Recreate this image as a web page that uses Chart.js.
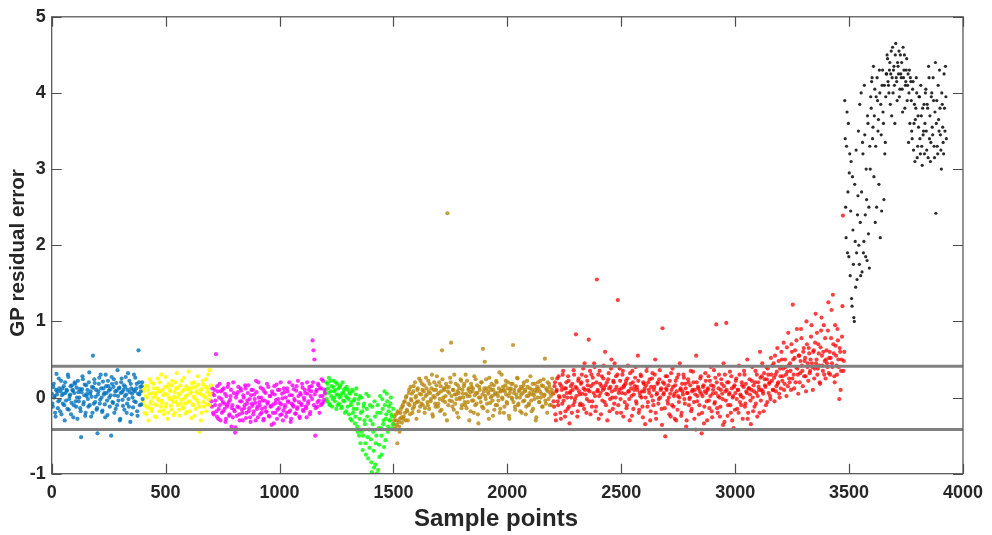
<!DOCTYPE html>
<html>
<head>
<meta charset="utf-8">
<script src="https://cdn.jsdelivr.net/npm/chart.js@4.4.1/dist/chart.umd.min.js"></script>
<style>
  html, body { margin: 0; padding: 0; background: #fff; }
  canvas { display: block; }
</style>
</head>
<body>
<canvas id="gpChart" width="992" height="535"></canvas>
<script>
// residual values; "A" lists sit on start+4i, "B" lists on start+2+4i
const sampleStep = 4;

const blueStart = 1;
const blueA = [
  0.05,-0.12,0.18,0.02,-0.25,0.31,0.08,-0.05,0.12,-0.18,
  0.22,0.03,-0.08,0.15,-0.3,0.06,0.1,-0.15,0.27,-0.02,
  0.04,-0.22,0.16,0.09,-0.1,0.2,-0.05,0.13,-0.28,0.07,
  0.0,-0.14,-0.52,0.11,0.24,-0.06,0.17,-0.2,0.02,0.1,
  -0.12,0.33,0.05,-0.25,0.14,0.55,-0.08,0.19,0.01,-0.16,
  -0.47,0.08,0.26,-0.03,0.12,-0.19,0.21,0.04,-0.09,0.3,
  0.06,-0.23,0.15,0.0,0.11,-0.5,0.18,-0.07,0.24,0.03,
  -0.15,0.09,0.36,-0.04,0.13,-0.28,0.2,0.07,-0.11,0.16,
  0.02,0.27,-0.2,0.1,-0.02,0.22,-0.32,0.12,0.05,-0.13,
  0.3,0.08,-0.06,0.18,-0.24,0.62,0.04,0.14,-0.09,0.2
];
const blueB = [
  -0.08,0.14,0.0,-0.2,0.1,0.04,-0.14,0.25,-0.03,0.08,
  -0.22,0.12,0.05,-0.1,0.2,-0.04,0.09,0.3,-0.16,0.02,
  0.15,-0.07,0.1,-0.26,0.06,0.18,-0.12,0.0,0.22,-0.05,
  0.11,-0.18,0.07,0.28,-0.09,0.03,-0.24,0.16,0.05,-0.02,
  0.2,-0.1,0.08,0.01,-0.2,0.13,0.24,-0.06,0.1,-0.14,
  0.04,0.18,-0.08,0.3,0.0,-0.17,0.12,0.06,-0.26,0.15,
  -0.04,0.22,0.09,-0.12,0.03,0.27,-0.06,0.14,-0.2,0.08,
  0.19,-0.1,0.02,0.12,-0.3,0.06,0.25,-0.03,0.1,-0.16,
  0.14,0.04,-0.08,0.32,-0.12,0.07,0.18,-0.22,0.0,0.1,
  -0.05,0.26,0.12,-0.18,0.05,0.2,-0.1,0.08,0.15,-0.02
];

const yellowStart = 401;
const yellowA = [
  -0.05,0.1,-0.2,0.02,-0.12,0.15,-0.3,0.05,-0.08,0.2,
  -0.15,0.0,0.12,-0.25,0.06,-0.1,0.25,-0.04,-0.18,0.08,
  0.3,-0.07,0.03,-0.22,0.14,-0.12,0.04,-0.28,0.18,-0.02,
  0.09,-0.16,0.22,-0.06,0.01,-0.2,0.12,0.32,-0.1,0.05,
  -0.24,0.16,-0.03,0.08,-0.14,0.26,-0.08,0.02,-0.19,0.11,
  0.34,-0.05,0.07,-0.27,0.13,-0.1,0.2,-0.01,-0.15,0.06,
  0.28,-0.07,-0.45,0.1,-0.2,0.03,0.17,-0.12,0.0,0.24,
  -0.09,0.12,-0.03,0.36,0.05
];
const yellowB = [
  0.08,-0.1,0.15,-0.22,0.0,0.1,-0.14,0.24,-0.05,-0.18,
  0.06,0.18,-0.09,0.02,-0.26,0.12,-0.02,0.08,0.2,-0.12,
  -0.04,0.1,-0.17,0.05,0.27,-0.08,0.14,-0.2,0.0,0.09,
  -0.11,0.16,-0.03,-0.23,0.07,0.2,-0.06,0.0,0.13,-0.16,
  0.04,-0.08,0.22,-0.13,0.1,-0.01,-0.21,0.15,0.03,-0.06,
  0.12,-0.18,0.06,0.19,-0.09,0.01,-0.24,0.14,0.08,-0.04,
  0.17,-0.12,0.05,-0.3,0.11,0.22,-0.06,0.02,0.14,-0.18,
  0.07,0.3,-0.1,0.03,0.16
];

const magentaStart = 701;
const magentaA = [
  -0.05,0.12,-0.2,0.03,-0.1,0.57,-0.25,0.08,-0.15,0.18,
  -0.3,-0.02,0.1,-0.18,-0.08,0.05,-0.28,-0.12,0.14,-0.06,
  -0.22,0.02,-0.38,-0.1,0.2,-0.16,-0.46,0.0,-0.24,0.07,
  -0.13,-0.3,0.12,-0.05,-0.2,0.03,-0.14,0.16,-0.27,-0.08,
  0.06,-0.18,-0.02,-0.32,0.1,-0.11,-0.22,0.04,-0.07,0.22,
  -0.15,-0.26,0.0,-0.1,0.13,-0.2,-0.04,-0.3,0.08,-0.13,
  -0.18,0.18,-0.06,-0.24,0.02,-0.12,-0.36,0.05,-0.09,0.15,
  -0.2,-0.03,-0.28,0.1,-0.14,-0.07,0.2,-0.22,-0.01,-0.17,
  0.07,-0.1,-0.25,0.12,-0.05,-0.19,0.03,-0.32,-0.08,0.16,
  -0.12,-0.02,-0.21,0.09,-0.15,0.22,-0.06,-0.27,0.04,-0.1,
  0.13,-0.18,-0.03,0.06,-0.14,0.2,-0.08,0.1,-0.22,0.02,
  0.15,0.75,0.62,0.5,-0.5,0.08,-0.12,0.18,-0.04,0.12,
  -0.1,0.24,0.02,-0.06,0.1
];
const magentaB = [
  -0.12,0.05,-0.22,0.1,-0.04,-0.18,0.15,-0.28,0.0,-0.1,
  0.08,-0.2,-0.06,0.12,-0.15,-0.32,0.02,-0.09,0.18,-0.24,
  -0.03,0.1,-0.14,-0.26,0.06,-0.18,-0.39,0.04,-0.12,0.14,
  -0.22,-0.05,0.09,-0.16,-0.3,0.0,-0.1,0.12,-0.2,-0.04,
  0.16,-0.14,-0.26,0.03,-0.08,0.1,-0.18,-0.02,-0.3,0.07,
  -0.12,0.2,-0.06,-0.22,0.0,-0.15,0.11,-0.28,-0.04,0.06,
  -0.19,-0.08,0.14,-0.25,0.02,-0.11,0.08,-0.2,-0.34,0.04,
  -0.07,0.17,-0.16,-0.02,0.1,-0.23,-0.09,0.05,-0.3,0.12,
  -0.13,0.0,-0.2,0.08,-0.06,0.2,-0.17,-0.28,0.03,-0.1,
  0.11,-0.04,-0.21,0.15,-0.13,0.02,-0.25,0.06,-0.08,0.18,
  -0.16,0.0,0.1,-0.12,-0.26,0.05,-0.05,0.14,-0.19,0.08,
  -0.02,0.2,-0.1,0.04,-0.14,0.1,-0.06,0.16,-0.2,0.02,
  0.12,-0.08,0.22,-0.03,0.06
];

const greenStart = 1201;
const greenA = [
  0.05,0.2,-0.05,0.12,0.26,-0.1,0.08,0.15,-0.02,0.22,
  0.0,0.1,-0.15,0.18,0.04,-0.08,0.14,0.02,-0.12,0.2,
  0.06,-0.05,0.12,-0.18,0.0,0.1,-0.22,0.05,-0.1,-0.3,
  0.08,-0.15,-0.02,-0.25,0.12,-0.38,-0.08,-0.5,0.02,-0.2,
  -0.45,-0.69,-0.12,-0.3,-0.6,0.05,-0.25,-0.8,-0.42,-0.1,
  -0.55,-0.98,-0.35,-0.7,-0.05,-0.88,-0.5,-0.2,-0.95,-0.62,
  0.02,-0.4,-0.75,-0.15,-0.3,0.08,-0.56,-0.22,-0.05,-0.38,
  -0.12,-0.3,0.0,-0.25,-0.35
];
const greenB = [
  0.1,-0.02,0.18,0.06,-0.08,0.22,0.02,-0.12,0.14,0.08,
  -0.05,0.2,0.04,-0.1,0.12,0.0,0.16,-0.14,0.06,-0.04,
  0.1,-0.2,0.02,0.14,-0.12,-0.02,0.06,-0.28,-0.06,0.1,
  -0.2,-0.04,-0.34,0.04,-0.15,-0.45,-0.02,-0.28,-0.6,0.0,
  -0.18,-0.5,-0.08,-0.35,-0.75,-0.15,-0.52,0.02,-0.66,-0.3,
  -0.85,-0.12,-0.45,-0.92,-0.25,-0.6,-1.0,-0.1,-0.4,-0.78,
  -0.2,-0.5,-0.02,-0.35,-0.65,-0.1,-0.28,0.05,-0.45,-0.18,
  -0.3,-0.08,-0.22,-0.4,-0.15
];

const goldStart = 1501;
const goldA = [
  -0.35,-0.25,-0.42,-0.3,-0.6,-0.2,-0.38,-0.28,-0.15,-0.33,
  -0.1,-0.25,-0.05,-0.3,0.02,-0.18,-0.08,0.1,-0.22,-0.02,
  0.05,-0.15,0.15,-0.08,0.0,-0.28,0.1,-0.05,0.25,-0.12,
  0.04,0.18,-0.1,0.08,-0.2,0.02,0.12,-0.06,0.22,-0.15,
  0.06,-0.02,0.3,-0.25,0.1,0.0,-0.12,0.16,0.04,-0.08,
  0.2,-0.18,0.08,0.62,-0.04,0.12,-0.22,0.02,0.14,2.42,
  -0.1,0.06,0.26,0.72,-0.05,0.1,-0.16,0.04,0.18,-0.02,
  0.08,-0.26,0.12,0.0,0.22,-0.1,0.05,0.15,-0.06,0.3,
  -0.14,0.02,0.1,-0.3,0.07,0.18,-0.04,0.12,-0.2,0.03,
  0.24,-0.08,0.06,-0.34,0.14,0.0,0.2,-0.12,0.64,0.08,
  0.47,-0.02,0.12,-0.18,0.05,0.26,-0.07,0.1,0.02,-0.24,
  0.16,0.04,-0.1,0.2,0.06,-0.04,0.33,-0.15,0.09,0.0,
  0.14,-0.2,0.08,0.22,-0.06,0.12,0.02,-0.28,0.1,0.18,
  -0.02,0.69,0.06,-0.12,0.15,0.0,0.25,-0.08,0.1,-0.18,
  0.04,0.12,-0.05,0.2,0.08,-0.22,0.02,0.14,-0.1,0.06,
  0.28,-0.04,0.1,-0.15,0.03,0.18,-0.3,0.08,0.0,0.12,
  -0.06,0.22,0.05,-0.12,0.15,0.02,0.51,-0.08,0.1,0.2,
  -0.02,0.14,0.06,-0.1,0.25
];
const goldB = [
  -0.3,-0.4,-0.22,-0.36,-0.18,-0.32,-0.45,-0.2,-0.26,-0.12,
  -0.28,-0.06,-0.2,0.0,-0.16,-0.3,0.06,-0.1,0.14,-0.04,
  -0.2,0.08,-0.12,0.2,0.02,-0.06,0.12,-0.18,0.05,0.22,
  -0.08,0.1,-0.02,0.16,-0.14,0.26,0.04,-0.1,0.08,0.18,
  -0.05,0.12,-0.22,0.02,0.2,-0.08,0.1,0.28,-0.12,0.06,
  -0.02,0.15,-0.16,0.24,0.0,0.1,-0.06,0.18,-0.3,0.08,
  0.14,-0.04,0.2,0.02,-0.12,0.1,0.3,-0.08,0.04,-0.2,
  0.16,0.06,-0.02,0.24,-0.14,0.1,0.0,0.18,-0.1,0.05,
  0.22,-0.06,0.12,0.02,-0.18,0.14,0.08,-0.04,0.28,-0.1,
  0.06,0.16,-0.22,0.0,0.1,-0.06,0.2,0.04,-0.14,0.12,
  0.02,0.24,-0.08,0.08,-0.28,0.14,0.0,0.18,-0.04,0.1,
  -0.16,0.06,0.22,-0.1,0.02,0.12,-0.2,0.08,0.3,-0.02,
  0.1,-0.12,0.16,0.04,-0.08,0.2,-0.24,0.06,0.12,0.0,
  0.18,-0.06,0.1,-0.16,0.04,0.26,-0.1,0.08,0.0,0.14,
  -0.2,0.06,0.16,-0.04,0.1,-0.12,0.22,0.02,-0.08,0.12,
  0.04,-0.18,0.18,0.06,-0.02,0.1,-0.26,0.14,0.2,-0.06,
  0.08,0.0,0.16,-0.12,0.24,0.04,-0.04,0.12,-0.2,0.08,
  0.18,-0.1,0.02,0.1,0.06
];

const redStart = 2201;
const redA = [
  0.05,-0.12,0.2,-0.3,0.1,-0.05,0.28,0.0,-0.2,0.15,
  -0.08,0.35,0.02,-0.25,0.12,0.06,-0.15,0.22,-0.34,0.08,
  0.0,0.18,-0.1,0.3,-0.02,0.83,0.12,-0.18,0.25,0.04,
  -0.08,0.2,0.05,0.38,-0.15,0.1,0.28,-0.02,0.16,0.76,
  0.08,-0.22,0.3,-0.05,0.18,0.45,0.02,-0.12,1.55,0.1,
  -0.28,0.35,0.06,0.15,-0.04,0.25,0.12,0.6,-0.1,0.2,
  0.04,0.32,-0.18,0.14,0.5,0.0,0.22,-0.08,0.1,0.28,
  -0.2,1.28,0.06,0.38,-0.02,0.12,0.3,-0.25,0.16,0.05,
  0.22,-0.1,0.42,0.08,-0.3,0.18,0.02,0.35,-0.15,0.1,
  0.26,-0.05,0.14,0.55,-0.2,0.06,0.3,0.0,-0.12,0.2,
  0.08,-0.35,0.16,0.4,-0.06,0.1,0.24,-0.18,0.02,0.32,
  -0.1,0.14,0.5,-0.28,0.06,0.2,-0.02,0.36,0.1,-0.15,
  0.91,0.04,0.18,-0.51,0.12,0.28,-0.08,0.0,0.22,-0.25,
  0.1,0.38,-0.12,0.05,0.16,-0.3,0.26,0.02,-0.06,0.45,
  0.12,-0.2,0.08,0.3,-0.02,0.18,-0.38,0.06,0.24,-0.1,
  0.0,0.35,-0.15,0.1,0.2,-0.28,0.04,0.55,-0.05,0.14,
  -0.22,0.08,0.28,-0.47,0.02,0.16,-0.12,0.32,0.06,-0.3,
  0.12,-0.04,0.22,0.4,-0.18,0.05,0.15,-0.08,0.26,0.96,
  -0.14,0.02,0.3,-0.25,0.1,0.18,-0.02,0.45,-0.32,0.08,
  0.98,0.2,-0.1,0.04,0.34,-0.2,0.12,0.0,-0.4,0.16,
  0.06,0.25,-0.15,0.1,0.42,-0.06,0.02,0.2,-0.28,0.14,
  0.3,-0.08,0.08,0.5,-0.2,0.12,0.04,-0.35,0.22,0.0,
  0.16,-0.12,0.35,0.06,-0.25,0.2,0.1,0.6,-0.04,0.28,
  0.08,-0.18,0.24,0.14,0.4,-0.06,0.3,0.18,0.02,0.52,
  0.22,0.1,0.45,-0.05,0.3,0.15,0.65,0.2,0.05,0.38,
  0.12,0.5,0.28,0.72,0.18,0.4,0.02,0.34,0.85,0.25,
  0.45,0.1,0.6,1.22,0.3,0.52,0.2,0.75,0.38,0.05,
  0.55,0.32,0.9,0.42,0.15,0.65,0.48,0.28,1.0,0.4,
  0.22,0.58,0.35,0.8,0.45,0.1,0.62,0.38,1.1,0.5,
  0.3,0.7,0.42,0.18,0.88,0.55,0.35,0.95,0.48,0.25,
  0.62,0.4,1.25,0.52,0.3,0.78,0.45,1.35,0.58,0.2,
  0.68,0.42,0.9,0.5,-0.02,0.6,0.35,0.8,2.39,0.48
];
const redB = [
  -0.05,0.15,-0.22,0.08,0.25,-0.1,0.02,0.18,-0.28,0.1,
  0.3,-0.04,0.12,-0.18,0.2,0.0,0.28,-0.12,0.06,0.15,
  -0.2,0.1,0.36,-0.06,0.14,0.02,-0.25,0.22,0.08,-0.1,
  0.18,0.3,-0.1,0.12,0.45,0.04,-0.2,0.22,0.1,-0.05,
  0.35,0.15,-0.12,0.26,0.06,0.4,-0.18,0.2,0.08,0.3,
  0.02,0.18,-0.22,0.28,0.1,0.42,-0.06,0.16,0.05,-0.3,
  0.24,0.12,-0.02,0.38,0.08,-0.15,0.2,0.45,0.0,0.14,
  0.3,-0.1,0.1,0.22,-0.2,0.06,0.35,0.14,-0.06,0.18,
  -0.14,0.25,0.08,-0.02,0.32,0.12,-0.24,0.2,0.04,0.15,
  0.4,-0.08,0.1,0.22,-0.16,0.02,0.28,0.08,-0.26,0.18,
  0.12,0.0,0.35,-0.12,0.2,0.06,-0.3,0.14,0.25,-0.04,
  0.1,0.3,-0.2,0.04,0.18,-0.08,0.24,0.0,0.12,-0.36,
  0.2,0.06,-0.14,0.28,0.1,-0.04,0.16,-0.22,0.05,0.32,
  -0.1,0.14,0.02,-0.28,0.22,0.08,-0.16,0.3,0.0,0.1,
  -0.24,0.18,0.04,0.26,-0.08,0.12,-0.3,0.06,0.2,-0.02,
  0.16,-0.18,0.08,0.34,-0.06,0.1,-0.42,0.2,0.02,0.12,
  -0.1,0.25,0.05,-0.2,0.14,-0.34,0.08,0.22,-0.05,0.1,
  0.28,-0.14,0.02,0.16,-0.26,0.1,0.36,-0.06,0.06,0.2,
  -0.2,0.12,0.0,-0.12,0.24,0.05,-0.36,0.15,0.3,-0.04,
  0.1,-0.24,0.2,0.06,-0.1,0.28,-0.3,0.02,0.14,-0.16,
  0.22,-0.02,0.1,-0.2,0.3,0.04,-0.1,0.16,0.0,0.35,
  -0.12,0.18,0.06,-0.28,0.12,0.24,-0.04,0.1,0.4,-0.18,
  0.08,0.2,-0.08,0.3,0.02,0.14,-0.2,0.26,0.1,0.45,
  0.05,0.32,0.16,-0.1,0.24,0.38,0.06,0.2,-0.02,0.3,
  0.42,0.1,0.26,0.55,0.08,0.34,0.18,0.48,0.0,0.28,
  0.6,0.22,0.38,0.1,0.5,0.3,0.66,0.15,0.42,0.2,
  0.35,0.7,0.25,0.5,0.12,0.62,0.4,0.9,0.3,0.55,
  0.2,0.48,0.78,0.35,0.6,0.28,0.52,0.08,0.7,0.45,
  0.65,0.32,0.5,0.95,0.4,0.6,0.25,0.72,0.45,0.85,
  0.38,0.58,0.2,0.66,1.05,0.42,0.6,0.3,0.78,0.5,
  0.45,0.88,0.32,0.6,0.52,1.15,0.4,0.7,0.28,0.95,
  0.55,0.3,0.75,0.4,0.65,0.1,0.5,1.2,0.35,0.6
];

const blackStart = 3481;
const blackA = [
  3.9,2.5,3.3,1.9,3.6,2.95,
  1.6,3.1,1.2,2.2,1.05,2.8,1.45,1.9,2.4,
  3.5,1.75,2.3,4.0,1.65,3.2,2.05,3.45,1.85,2.6,3.7,2.15,1.7,3.0,
  3.8,4.2,3.55,2.9,4.05,3.3,2.5,3.9,3.65,4.3,2.1,3.45,4.1,3.75,2.6,3.2,3.95,
  4.25,4.45,4.1,4.3,3.85,4.55,4.2,4.0,4.35,3.6,4.65,4.15,4.4,4.25,3.95,4.5,
  4.2,4.05,4.6,4.3,3.8,4.15,4.45,4.1,3.35,4.3,4.2,
  3.9,3.4,4.15,3.6,3.1,3.8,4.0,3.3,3.55,3.95,3.2,3.7,3.05,3.45,3.85,
  3.6,4.05,3.25,3.8,4.35,3.4,3.1,3.95,3.55,4.2,3.3,3.75,2.42,3.9,3.2,3.65,
  4.3,3.45,3.0,3.85,3.35,4.25,3.5,3.95
];
const blackB = [
  3.4,2.1,3.75,2.7,1.85,3.2,
  2.45,1.3,2.9,1.75,1.0,2.05,3.25,1.55,2.65,
  2.0,3.85,1.6,2.7,3.35,1.9,4.1,2.4,3.0,1.8,3.6,2.5,3.3,3.95,
  4.15,3.4,4.35,3.7,2.3,3.95,4.2,3.5,2.8,4.0,3.85,2.45,4.3,3.6,4.1,3.35,4.25,
  4.5,4.15,4.0,4.4,4.25,3.7,4.6,4.3,4.1,4.5,4.2,3.9,4.35,4.55,4.05,4.25,
  4.4,3.75,4.2,4.5,4.1,4.3,3.9,4.25,4.0,3.6,4.15,
  3.5,4.05,3.25,3.85,3.65,4.2,3.15,3.7,3.95,3.4,4.1,3.3,3.8,3.5,3.2,
  4.0,3.5,3.85,3.15,4.2,3.7,3.35,4.0,3.45,3.9,3.15,4.4,3.6,3.3,4.1,3.5,
  3.8,3.25,4.0,3.55,3.2,3.8,4.35,3.4
];

// the two gray limit lines
const upperLimit = 0.41;
const lowerLimit = -0.42;

const xTicks = [0, 500, 1000, 1500, 2000, 2500, 3000, 3500, 4000];
const yTicks = [-1, 0, 1, 2, 3, 4, 5];

const xTitle = "Sample points";
const yTitle = "GP residual error";

function toPoints(start, valsA, valsB) {
  const a = valsA.map((v, i) => ({ x: start + i * sampleStep, y: v }));
  const b = valsB.map((v, i) => ({ x: start + 2 + i * sampleStep, y: v }));
  return a.concat(b);
}

function scatterSet(points, color, radius) {
  return {
    type: "scatter",
    data: points,
    backgroundColor: color,
    borderWidth: 0,
    pointRadius: radius,
    pointHoverRadius: radius,
    order: 1
  };
}

function limitSet(value) {
  return {
    type: "line",
    data: [{ x: xTicks[0], y: value }, { x: xTicks[xTicks.length - 1], y: value }],
    borderColor: "#808080",
    borderWidth: 3,
    pointRadius: 0,
    order: 0
  };
}

// box with inward ticks on all four sides, plus the two axis titles
const boxPlugin = {
  id: "box",
  afterDatasetsDraw(chart) {
    const { ctx, chartArea: a, scales } = chart;
    const len = 10;
    ctx.save();
    ctx.strokeStyle = "#4d4d4d";
    ctx.lineWidth = 1.2;
    ctx.strokeRect(a.left, a.top, a.right - a.left, a.bottom - a.top);
    ctx.beginPath();
    xTicks.forEach((v) => {
      const px = Math.round(scales.x.getPixelForValue(v)) + 0.5;
      ctx.moveTo(px, a.bottom); ctx.lineTo(px, a.bottom - len);
      ctx.moveTo(px, a.top); ctx.lineTo(px, a.top + len);
    });
    yTicks.forEach((v) => {
      const py = Math.round(scales.y.getPixelForValue(v)) + 0.5;
      ctx.moveTo(a.left, py); ctx.lineTo(a.left + len, py);
      ctx.moveTo(a.right, py); ctx.lineTo(a.right - len, py);
    });
    ctx.stroke();

    ctx.fillStyle = "#262626";
    ctx.textAlign = "center";
    ctx.textBaseline = "middle";
    ctx.font = "bold 24px 'Liberation Sans', Arial, sans-serif";
    ctx.fillText(xTitle, 496, 519);
    ctx.translate(18, 253);
    ctx.rotate(-Math.PI / 2);
    ctx.font = "bold 20.5px 'Liberation Sans', Arial, sans-serif";
    ctx.fillText(yTitle, 0, 0);
    ctx.restore();
  }
};

const tickFont = { family: "'Liberation Sans Narrow', 'Liberation Sans', Arial, sans-serif", size: 18, weight: "bold" };

new Chart(document.getElementById("gpChart"), {
  data: {
    datasets: [
      limitSet(upperLimit),
      limitSet(lowerLimit),
      scatterSet(toPoints(blueStart, blueA, blueB), "rgba(0,114,189,0.8)", 2.1),
      scatterSet(toPoints(yellowStart, yellowA, yellowB), "rgba(255,255,0,0.85)", 2.1),
      scatterSet(toPoints(magentaStart, magentaA, magentaB), "rgba(255,0,255,0.8)", 2.1),
      scatterSet(toPoints(greenStart, greenA, greenB), "rgba(0,255,0,0.8)", 2.1),
      scatterSet(toPoints(goldStart, goldA, goldB), "rgba(184,134,11,0.8)", 2.1),
      scatterSet(toPoints(redStart, redA, redB), "rgba(255,0,0,0.75)", 2.1),
      scatterSet(toPoints(blackStart, blackA, blackB), "rgba(20,20,20,0.9)", 1.6)
    ]
  },
  options: {
    responsive: false,
    animation: false,
    layout: { padding: { left: 0, right: 22.7, top: 11.7, bottom: 0 } },
    plugins: {
      legend: { display: false },
      tooltip: { enabled: false }
    },
    scales: {
      x: {
        type: "linear",
        min: 0,
        max: 4000,
        afterBuildTicks: (s) => { s.ticks = xTicks.map((v) => ({ value: v })); },
        afterFit: (s) => { s.height = 61.3; },
        grid: { display: false, drawTicks: false },
        border: { display: false },
        ticks: { color: "#262626", font: tickFont, padding: 9, maxRotation: 0, callback: (v) => String(v) }
      },
      y: {
        type: "linear",
        min: -1,
        max: 5,
        afterBuildTicks: (s) => { s.ticks = yTicks.map((v) => ({ value: v })); },
        afterFit: (s) => { s.width = 51.7; },
        grid: { display: false, drawTicks: false },
        border: { display: false },
        ticks: { color: "#262626", font: tickFont, padding: 6, callback: (v) => String(v) }
      }
    }
  },
  plugins: [boxPlugin]
});
</script>
</body>
</html>
